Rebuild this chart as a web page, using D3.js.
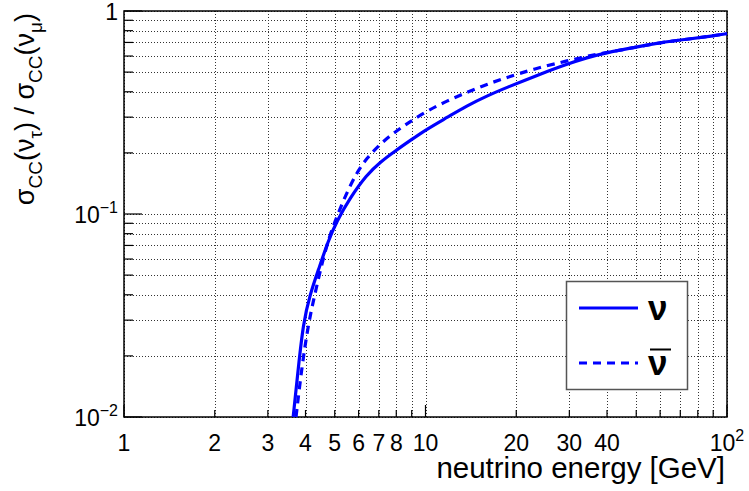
<!DOCTYPE html>
<html>
<head>
<meta charset="utf-8">
<script src="https://cdn.jsdelivr.net/npm/d3@7"></script>
<style>
  body { margin: 0; background: #fff; }
  text { font-family: "Liberation Sans", Arial, Helvetica, sans-serif; fill: #000; }
</style>
</head>
<body>
<div id="chart"></div>
<script>
var w = 749;
var h = 491;

// energies (GeV) and cross-section ratios
var nuE     = [3.64, 3.79, 3.93, 4.14, 4.41, 4.76, 5.08, 5.62, 6.38, 7.07, 7.92, 8.89, 10.1, 11.8, 13.7, 16.0, 18.6, 24.0, 29.4, 34.3, 39.9, 48.9, 60.0, 73.5, 90.0, 100];
var nuRatio = [0.0100, 0.0177, 0.0289, 0.0402, 0.0528, 0.0741, 0.0922, 0.120, 0.156, 0.180, 0.204, 0.230, 0.262, 0.299, 0.341, 0.382, 0.420, 0.489, 0.547, 0.589, 0.624, 0.660, 0.699, 0.726, 0.754, 0.774];

var nubarE     = [3.72, 3.89, 4.09, 4.30, 4.53, 4.82, 5.08, 5.41, 5.91, 6.38, 7.07, 7.92, 8.89, 10.1, 11.8, 13.7, 16.0, 18.6, 22.7, 29.4, 37.0, 44.2, 60.0, 73.5, 90.0, 100];
var nubarRatio = [0.0100, 0.0177, 0.0289, 0.0405, 0.0569, 0.0793, 0.0966, 0.122, 0.160, 0.188, 0.221, 0.254, 0.285, 0.321, 0.361, 0.397, 0.436, 0.470, 0.517, 0.568, 0.613, 0.641, 0.699, 0.726, 0.754, 0.774];

var xTicks = [1, 2, 3, 4, 5, 6, 7, 8, 10, 20, 30, 40, 100];
var xTickLabels = ["1", "2", "3", "4", "5", "6", "7", "8", "10", "20", "30", "40", "10|2"];
var yTicks = [1, 0.1, 0.01];
var yTickLabels = ["1", "10|\u22121", "10|\u22122"];

var margin = {left: 124, right: 22, top: 11, bottom: 74};

var svg = d3.select("#chart")
    .append("svg")
    .attr("width", w)
    .attr("height", h);

var x = d3.scaleLog().domain([1, 100]).range([margin.left, w - margin.right]);
var y = d3.scaleLog().domain([0.01, 1]).range([h - margin.bottom, margin.top]);

// every grid value 1..9 per decade
var xGrid = [], yGrid = [];
for (var d = 1; d <= 10; d *= 10) {
    for (var k = 1; k < 10; k++) { xGrid.push(k * d); }
}
xGrid.push(100);
for (var d2 = 0.01; d2 < 1; d2 *= 10) {
    for (var k2 = 1; k2 < 10; k2++) { yGrid.push(k2 * d2); }
}
yGrid.push(1);

var grid = svg.append("g")
    .attr("stroke", "#333")
    .attr("stroke-width", 1)
    .attr("stroke-dasharray", "1,2");

grid.selectAll(".vgrid")
    .data(xGrid)
    .enter().append("line")
    .attr("x1", function(d) { return Math.round(x(d)) + 0.5; })
    .attr("x2", function(d) { return Math.round(x(d)) + 0.5; })
    .attr("y1", y(0.01))
    .attr("y2", y(1));

grid.selectAll(".hgrid")
    .data(yGrid)
    .enter().append("line")
    .attr("y1", function(d) { return Math.round(y(d)) + 0.5; })
    .attr("y2", function(d) { return Math.round(y(d)) + 0.5; })
    .attr("x1", x(1))
    .attr("x2", x(100));

// inward ticks
var isMajor = function(d) { return Math.abs(Math.log10(d) - Math.round(Math.log10(d))) < 1e-6; };

svg.selectAll(".xtick")
    .data(xGrid)
    .enter().append("line")
    .attr("stroke", "#000")
    .attr("stroke-width", 1.2)
    .attr("x1", function(d) { return x(d); })
    .attr("x2", function(d) { return x(d); })
    .attr("y1", y(0.01))
    .attr("y2", function(d) { return y(0.01) - (isMajor(d) ? 12 : 7); });

svg.selectAll(".ytick")
    .data(yGrid)
    .enter().append("line")
    .attr("stroke", "#000")
    .attr("stroke-width", 1.2)
    .attr("y1", function(d) { return y(d); })
    .attr("y2", function(d) { return y(d); })
    .attr("x1", x(1))
    .attr("x2", function(d) { return x(1) + (isMajor(d) ? 18 : 9); });

// frame
svg.append("rect")
    .attr("x", x(1))
    .attr("y", y(1))
    .attr("width", x(100) - x(1))
    .attr("height", y(0.01) - y(1))
    .attr("fill", "none")
    .attr("stroke", "#000")
    .attr("stroke-width", 1.5);

// tick labels, "a|b" means a with superscript b
function putLabel(sel, s) {
    var parts = s.split("|");
    sel.append("tspan").text(parts[0]);
    if (parts.length > 1) {
        sel.append("tspan")
            .attr("dy", -10)
            .attr("font-size", "16px")
            .text(parts[1]);
    }
}

svg.selectAll(".xlabel")
    .data(xTicks)
    .enter().append("text")
    .attr("x", function(d) { return x(d); })
    .attr("y", 451)
    .attr("text-anchor", "middle")
    .attr("font-size", "23px")
    .each(function(d, i) { putLabel(d3.select(this), xTickLabels[i]); });

svg.selectAll(".ylabel")
    .data(yTicks)
    .enter().append("text")
    .attr("x", 118)
    .attr("y", function(d) { return y(d) + 9; })
    .attr("text-anchor", "end")
    .attr("font-size", "23px")
    .each(function(d, i) { putLabel(d3.select(this), yTickLabels[i]); });

// axis titles
svg.append("text")
    .attr("x", 725)
    .attr("y", 478)
    .attr("text-anchor", "end")
    .attr("font-size", "29.5px")
    .text("neutrino energy [GeV]");

var yt = svg.append("text")
    .attr("transform", "translate(34,13) rotate(-90)")
    .attr("text-anchor", "end")
    .attr("font-size", "27px");
var ytParts = [["\u03c3", 0], ["CC", 1], ["(\u03bd", 0], ["\u03c4", 1], [") / \u03c3", 0], ["CC", 1], ["(\u03bd", 0], ["\u03bc", 1], [")", 0]];
var prevSub = 0;
ytParts.forEach(function(p) {
    var dy = (p[1] - prevSub) * 8;
    yt.append("tspan")
        .attr("dy", dy)
        .attr("font-size", p[1] ? "19px" : "27px")
        .text(p[0]);
    prevSub = p[1];
});

// curves
var line = d3.line()
    .x(function(d) { return x(d[0]); })
    .y(function(d) { return y(d[1]); })
    .curve(d3.curveBasis);

var nuPts = nuE.map(function(e, i) { return [e, nuRatio[i]]; });
var nubarPts = nubarE.map(function(e, i) { return [e, nubarRatio[i]]; });

svg.append("path")
    .attr("d", line(nubarPts))
    .attr("fill", "none")
    .attr("stroke", "#0000ff")
    .attr("stroke-width", 3.2)
    .attr("stroke-dasharray", "8,6");

svg.append("path")
    .attr("d", line(nuPts))
    .attr("fill", "none")
    .attr("stroke", "#0000ff")
    .attr("stroke-width", 3.2);

// legend
var lg = svg.append("g");
lg.append("rect")
    .attr("x", 566.5)
    .attr("y", 281.5)
    .attr("width", 121)
    .attr("height", 108)
    .attr("fill", "#fff")
    .attr("stroke", "#555")
    .attr("stroke-width", 1.5);

lg.append("line")
    .attr("x1", 579).attr("x2", 638)
    .attr("y1", 308).attr("y2", 308)
    .attr("stroke", "#0000ff")
    .attr("stroke-width", 3.2);
lg.append("line")
    .attr("x1", 579).attr("x2", 638)
    .attr("y1", 363).attr("y2", 363)
    .attr("stroke", "#0000ff")
    .attr("stroke-width", 3.2)
    .attr("stroke-dasharray", "8,6");

lg.append("text")
    .attr("x", 648).attr("y", 320)
    .attr("font-family", "'DejaVu Serif', serif")
    .attr("font-weight", "bold")
    .attr("font-size", "35px")
    .text("\u03bd");
lg.append("text")
    .attr("x", 648).attr("y", 375)
    .attr("font-family", "'DejaVu Serif', serif")
    .attr("font-weight", "bold")
    .attr("font-size", "35px")
    .text("\u03bd");
lg.append("line")
    .attr("x1", 650).attr("x2", 671)
    .attr("y1", 349.5).attr("y2", 349.5)
    .attr("stroke", "#000")
    .attr("stroke-width", 2);
</script>
</body>
</html>
